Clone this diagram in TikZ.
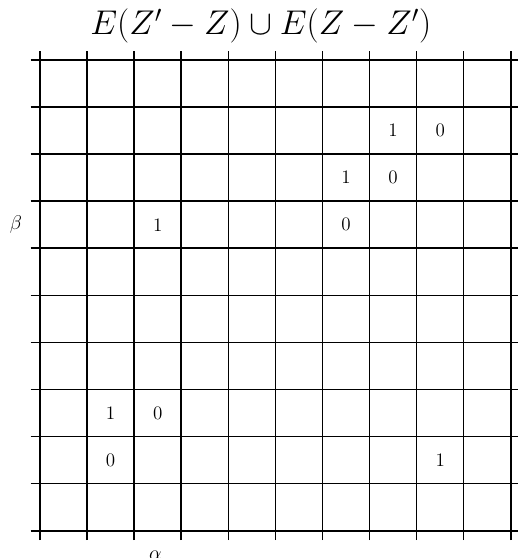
\documentclass[tikz,border=0pt]{standalone}
\begin{document}
\begin{tikzpicture}[x=1cm,y=1cm,
  gridline/.style={line width=0.95pt,black},
  val/.style={font=\fontsize{11.5}{13}\selectfont,inner sep=0pt},
  lbl/.style={font=\fontsize{11.5}{13}\selectfont,inner sep=0pt}]
\useasboundingbox (-0.849,-0.579) rectangle (10.144,11.273);
\foreach \i in {0,...,10} {
  \draw[gridline] (\i,-0.2) -- (\i,10.2);
  \draw[gridline] (-0.2,\i) -- (10.2,\i);
}
\node[anchor=base,inner sep=0pt,font=\fontsize{19.3}{22}\selectfont] (title) at (4.69,10.535) {$E(Z'-Z)\cup E(Z-Z')$};
\node[val] (a1) at (7.5,8.5) {1};
\node[val] (a2) at (8.5,8.5) {0};
\node[val] (b1) at (6.5,7.5) {1};
\node[val] (b2) at (7.5,7.5) {0};
\node[val] (c1) at (2.5,6.5) {1};
\node[val] (c2) at (6.5,6.5) {0};
\node[val] (d1) at (1.5,2.5) {1};
\node[val] (d2) at (2.5,2.5) {0};
\node[val] (e1) at (1.5,1.5) {0};
\node[val] (e2) at (8.5,1.5) {1};
\node[lbl] (beta) at (-0.51,6.5) {$\beta$};
\node[lbl] (alpha) at (2.45,-0.52) {$\alpha$};
\end{tikzpicture}
\end{document}
